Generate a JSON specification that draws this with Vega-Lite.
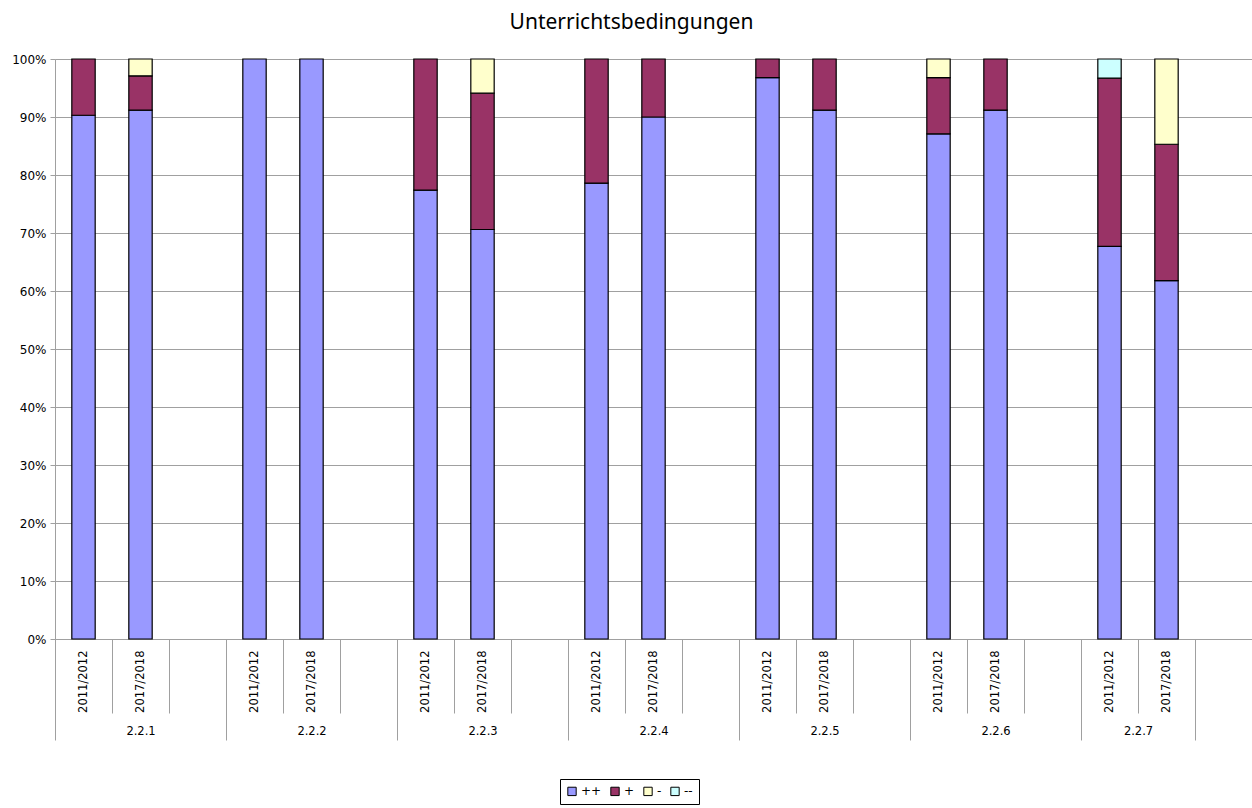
{
  "$schema": "https://vega.github.io/schema/vega-lite/v6.json",
  "width": 1197,
  "height": 580,
  "autosize": "none",
  "padding": {"left": 55, "top": 59, "right": 0, "bottom": 169},
  "background": "white",
  "title": {
    "text": "Unterrichtsbedingungen",
    "font": "Noto Sans",
    "fontSize": 21,
    "fontWeight": "normal",
    "color": "black",
    "anchor": "middle",
    "dx": -22,
    "offset": 20
  },
  "datasets": {
    "bars": [
      {"slot": "2.2.1|2011/2012", "rating": "++", "rank": 1, "value": 90.3},
      {"slot": "2.2.1|2011/2012", "rating": "+", "rank": 2, "value": 9.7},
      {"slot": "2.2.1|2017/2018", "rating": "++", "rank": 1, "value": 91.2},
      {"slot": "2.2.1|2017/2018", "rating": "+", "rank": 2, "value": 5.9},
      {"slot": "2.2.1|2017/2018", "rating": "-", "rank": 3, "value": 2.9},
      {"slot": "2.2.2|2011/2012", "rating": "++", "rank": 1, "value": 100},
      {"slot": "2.2.2|2017/2018", "rating": "++", "rank": 1, "value": 100},
      {"slot": "2.2.3|2011/2012", "rating": "++", "rank": 1, "value": 77.4},
      {"slot": "2.2.3|2011/2012", "rating": "+", "rank": 2, "value": 22.6},
      {"slot": "2.2.3|2017/2018", "rating": "++", "rank": 1, "value": 70.6},
      {"slot": "2.2.3|2017/2018", "rating": "+", "rank": 2, "value": 23.5},
      {"slot": "2.2.3|2017/2018", "rating": "-", "rank": 3, "value": 5.9},
      {"slot": "2.2.4|2011/2012", "rating": "++", "rank": 1, "value": 78.6},
      {"slot": "2.2.4|2011/2012", "rating": "+", "rank": 2, "value": 21.4},
      {"slot": "2.2.4|2017/2018", "rating": "++", "rank": 1, "value": 90.0},
      {"slot": "2.2.4|2017/2018", "rating": "+", "rank": 2, "value": 10.0},
      {"slot": "2.2.5|2011/2012", "rating": "++", "rank": 1, "value": 96.8},
      {"slot": "2.2.5|2011/2012", "rating": "+", "rank": 2, "value": 3.2},
      {"slot": "2.2.5|2017/2018", "rating": "++", "rank": 1, "value": 91.2},
      {"slot": "2.2.5|2017/2018", "rating": "+", "rank": 2, "value": 8.8},
      {"slot": "2.2.6|2011/2012", "rating": "++", "rank": 1, "value": 87.1},
      {"slot": "2.2.6|2011/2012", "rating": "+", "rank": 2, "value": 9.7},
      {"slot": "2.2.6|2011/2012", "rating": "-", "rank": 3, "value": 3.2},
      {"slot": "2.2.6|2017/2018", "rating": "++", "rank": 1, "value": 91.2},
      {"slot": "2.2.6|2017/2018", "rating": "+", "rank": 2, "value": 8.8},
      {"slot": "2.2.7|2011/2012", "rating": "++", "rank": 1, "value": 67.7},
      {"slot": "2.2.7|2011/2012", "rating": "+", "rank": 2, "value": 29.0},
      {"slot": "2.2.7|2011/2012", "rating": "--", "rank": 4, "value": 3.3},
      {"slot": "2.2.7|2017/2018", "rating": "++", "rank": 1, "value": 61.8},
      {"slot": "2.2.7|2017/2018", "rating": "+", "rank": 2, "value": 23.5},
      {"slot": "2.2.7|2017/2018", "rating": "-", "rank": 3, "value": 14.7}
    ],
    "groups": [
      {"group": "2.2.1", "start": 0, "mid": 1.5},
      {"group": "2.2.2", "start": 3, "mid": 4.5},
      {"group": "2.2.3", "start": 6, "mid": 7.5},
      {"group": "2.2.4", "start": 9, "mid": 10.5},
      {"group": "2.2.5", "start": 12, "mid": 13.5},
      {"group": "2.2.6", "start": 15, "mid": 16.5},
      {"group": "2.2.7", "start": 18, "mid": 19}
    ]
  },
  "layer": [
    {
      "data": {"name": "bars"},
      "mark": {"type": "bar", "width": {"band": 0.41}, "stroke": "black", "strokeWidth": 1.2},
      "encoding": {
        "x": {
          "field": "slot",
          "type": "nominal",
          "sort": null,
          "scale": {
            "domain": [
              "2.2.1|2011/2012", "2.2.1|2017/2018", "2.2.1|",
              "2.2.2|2011/2012", "2.2.2|2017/2018", "2.2.2|",
              "2.2.3|2011/2012", "2.2.3|2017/2018", "2.2.3|",
              "2.2.4|2011/2012", "2.2.4|2017/2018", "2.2.4|",
              "2.2.5|2011/2012", "2.2.5|2017/2018", "2.2.5|",
              "2.2.6|2011/2012", "2.2.6|2017/2018", "2.2.6|",
              "2.2.7|2011/2012", "2.2.7|2017/2018", "2.2.7|"
            ],
            "paddingInner": 0,
            "paddingOuter": 0
          },
          "axis": {
            "orient": "bottom",
            "title": null,
            "grid": false,
            "domainColor": "#a0a0a0",
            "tickColor": "#a0a0a0",
            "tickBand": "extent",
            "tickSize": 74,
            "labelExpr": "split(datum.value, '|')[1]",
            "labelAngle": -90,
            "labelPadding": -63,
            "labelOverlap": false,
            "labelFont": "DejaVu Sans",
            "labelFontSize": 11.5,
            "labelColor": "black"
          }
        },
        "y": {
          "field": "value",
          "type": "quantitative",
          "stack": "normalize",
          "scale": {"domain": [0, 1]},
          "axis": {
            "title": null,
            "values": [0, 0.1, 0.2, 0.3, 0.4, 0.5, 0.6, 0.7, 0.8, 0.9, 1],
            "format": ".0%",
            "grid": true,
            "gridColor": "#a0a0a0",
            "domainColor": "#a0a0a0",
            "tickColor": "#a0a0a0",
            "tickSize": 5,
            "labelPadding": 4,
            "labelFont": "DejaVu Sans",
            "labelFontSize": 12,
            "labelColor": "black"
          }
        },
        "color": {
          "field": "rating",
          "type": "nominal",
          "scale": {
            "domain": ["++", "+", "-", "--"],
            "range": ["#9999FF", "#993366", "#FFFFCC", "#CCFFFF"]
          },
          "legend": {
            "orient": "none",
            "legendX": 505,
            "legendY": 720,
            "direction": "horizontal",
            "title": null,
            "strokeColor": "black",
            "padding": 6,
            "symbolType": "square",
            "symbolSize": 70,
            "symbolStrokeColor": "black",
            "symbolStrokeWidth": 1,
            "symbolOpacity": 1,
            "labelFont": "DejaVu Sans",
            "labelFontSize": 12,
            "labelColor": "black",
            "labelOffset": 3,
            "columnPadding": 6
          }
        },
        "order": {"field": "rank", "type": "quantitative"}
      }
    },
    {
      "data": {"name": "groups"},
      "mark": {"type": "text", "opacity": 0},
      "encoding": {
        "x": {
          "field": "start",
          "type": "quantitative",
          "scale": {"domain": [0, 21], "nice": false, "zero": false},
          "axis": {
            "orient": "bottom",
            "title": null,
            "values": [0, 3, 6, 9, 12, 15, 18, 20],
            "labels": false,
            "domain": false,
            "grid": false,
            "tickSize": 101,
            "tickColor": "#a0a0a0"
          }
        },
        "text": {"field": "group"}
      }
    },
    {
      "data": {"name": "groups"},
      "mark": {"type": "text", "opacity": 0},
      "encoding": {
        "x": {
          "field": "mid",
          "type": "quantitative",
          "scale": {"domain": [0, 21], "nice": false, "zero": false},
          "axis": {
            "orient": "bottom",
            "title": null,
            "values": [1.5, 4.5, 7.5, 10.5, 13.5, 16.5, 19],
            "labelExpr": "datum.value == 19 ? '2.2.7' : '2.2.' + ((datum.value + 1.5) / 3)",
            "ticks": false,
            "domain": false,
            "grid": false,
            "offset": 86,
            "labelPadding": 0,
            "labelFlush": false,
            "labelOverlap": false,
            "labelFont": "DejaVu Sans",
            "labelFontSize": 11.5,
            "labelColor": "black"
          }
        },
        "text": {"field": "group"}
      }
    }
  ],
  "resolve": {"scale": {"x": "independent"}, "axis": {"x": "independent"}}
}
